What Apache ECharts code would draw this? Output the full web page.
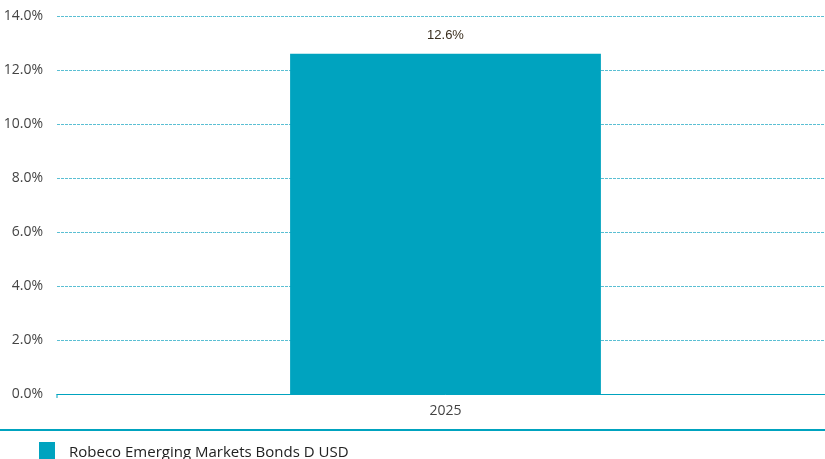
<!DOCTYPE html>
<html>
<head>
<meta charset="utf-8">
<script src="https://cdn.jsdelivr.net/npm/echarts@6/dist/echarts.min.js"></script>
<style>html,body{margin:0;padding:0;background:#fff;overflow:hidden;width:825px;height:459px;}#c{width:834px;height:459px;}</style>
</head>
<body>
<div id="c"></div>
<script>
const categories = ['2025'];
const seriesName = 'Robeco Emerging Markets Bonds D USD';
const values = [12.6];

const chart = echarts.init(document.getElementById('c'));
chart.setOption({
  animation: false,
  grid: { left: 57, right: 0, top: 16, bottom: 65, containLabel: false },
  legend: {
    left: 34, top: 437, itemWidth: 16, itemHeight: 22, icon: 'rect',
    textStyle: { fontFamily: 'Open Sans', fontSize: 15, color: '#222', padding: [0, 0, 0, 9] },
    data: [seriesName]
  },
  xAxis: {
    type: 'category', data: categories,
    axisLine: { lineStyle: { color: '#00a3bf', width: 1 } },
    axisTick: { show: false },
    axisLabel: { color: '#444', fontFamily: 'Open Sans', fontSize: 14, margin: 10 }
  },
  yAxis: {
    type: 'value', min: 0, max: 14, interval: 2,
    axisLine: { show: false }, axisTick: { show: false },
    axisLabel: { formatter: v => v.toFixed(1) + '%', color: '#444', fontFamily: 'Open Sans', fontSize: 14, margin: 14 },
    splitLine: { lineStyle: { color: '#5bbfd3', type: [3, 1], width: 1 } }
  },
  graphic: [
    { type: 'line', shape: { x1: 0, y1: 430, x2: 834, y2: 430 }, style: { stroke: '#00a3bf', lineWidth: 2 } },
    { type: 'line', shape: { x1: 57, y1: 394, x2: 57, y2: 398 }, style: { stroke: '#00a3bf', lineWidth: 1 } }
  ],
  series: [{
    name: seriesName, type: 'bar', data: values, barWidth: '40%',
    itemStyle: { color: '#00a3bf' },
    label: { show: true, position: 'top', distance: 12, formatter: p => p.value.toFixed(1) + '%', color: '#3a2e1e', fontFamily: 'Liberation Sans', fontSize: 13 }
  }]
});
</script>
</body>
</html>
